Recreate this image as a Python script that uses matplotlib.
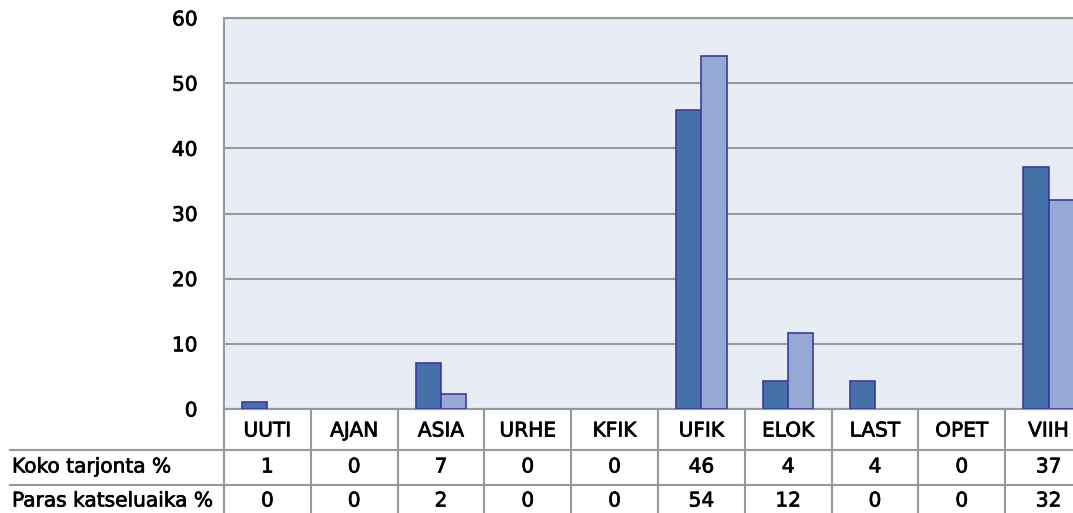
import numpy as np
import matplotlib.pyplot as plt
import matplotlib.patheffects as pe
from matplotlib.transforms import blended_transform_factory

categories = ["UUTI", "AJAN", "ASIA", "URHE", "KFIK", "UFIK", "ELOK", "LAST", "OPET", "VIIH"]
koko = [1.1, 0, 7.0, 0, 0, 45.9, 4.3, 4.3, 0, 37.1]
paras = [0, 0, 2.3, 0, 0, 54.2, 11.6, 0, 0, 32.0]
koko_labels = ["1", "0", "7", "0", "0", "46", "4", "4", "0", "37"]
paras_labels = ["0", "0", "2", "0", "0", "54", "12", "0", "0", "32"]
row_names = ["Koko tarjonta %", "Paras katseluaika %"]

W, H = 1073, 513
plt.rcParams['font.family'] = ['DejaVu Sans']
FS = 14.5
# slightly heavier than regular, like the original's text
thick = [pe.withStroke(linewidth=0.5, foreground='black')]
fig = plt.figure(figsize=(W / 100, H / 100), dpi=100)

# axes runs past the right edge, as in the original screenshot
ax = fig.add_axes([224 / W, (H - 409) / H, (1092 - 224) / W, (409 - 18) / H])
ax.set_facecolor('#e8ecf5')

x = np.arange(len(categories))
bw = 0.29
koko = np.array(koko)
paras = np.array(paras)
# zero values get no outline (nothing drawn in the original)
ax.bar(x - bw / 2, koko, bw, color='#4571a8', edgecolor='#3b3ba0',
       linewidth=np.where(koko > 0, 1.2, 0), zorder=3)
ax.bar(x + bw / 2, paras, bw, color='#95a9d4', edgecolor='#3b3ba0',
       linewidth=np.where(paras > 0, 1.2, 0), zorder=3)

ax.set_xlim(-0.5, len(categories) - 0.5)
ax.set_ylim(0, 60)
ax.set_yticks(range(0, 61, 10))
ax.yaxis.grid(True, color='#999999', linewidth=1.5, zorder=1)
ax.set_xticks([])
ax.tick_params(axis='y', length=0, pad=19, labelsize=FS)
for lab in ax.get_yticklabels():
    lab.set_path_effects(thick)
for side in ['left', 'top', 'bottom']:
    ax.spines[side].set_color('#999999')
    ax.spines[side].set_linewidth(1.5)
ax.spines['right'].set_visible(False)

# table under the plot: x in data units, y in figure pixels (from top)
tr = blended_transform_factory(ax.transData, fig.transFigure)
fy = lambda py: (H - py) / H

for b in np.arange(-0.5, len(categories), 1.0):
    ax.plot([b, b], [fy(409), fy(513)], transform=tr, color='#999999', lw=1.5, clip_on=False)
for py in [450, 485]:
    fig.add_artist(plt.Line2D([10 / W, 1], [fy(py), fy(py)], color='#999999', lw=1.5))

for i, c in enumerate(categories):
    ax.text(i, fy(431), c, transform=tr, ha='center', va='center', fontsize=FS, path_effects=thick)
    ax.text(i, fy(467), koko_labels[i], transform=tr, ha='center', va='center', fontsize=FS, path_effects=thick)
    ax.text(i, fy(501), paras_labels[i], transform=tr, ha='center', va='center', fontsize=FS, path_effects=thick)

fig.text(12 / W, fy(467), row_names[0], ha='left', va='center', fontsize=FS, path_effects=thick)
fig.text(12 / W, fy(501), row_names[1], ha='left', va='center', fontsize=FS, path_effects=thick)

fig.savefig('out.png', dpi=100)
